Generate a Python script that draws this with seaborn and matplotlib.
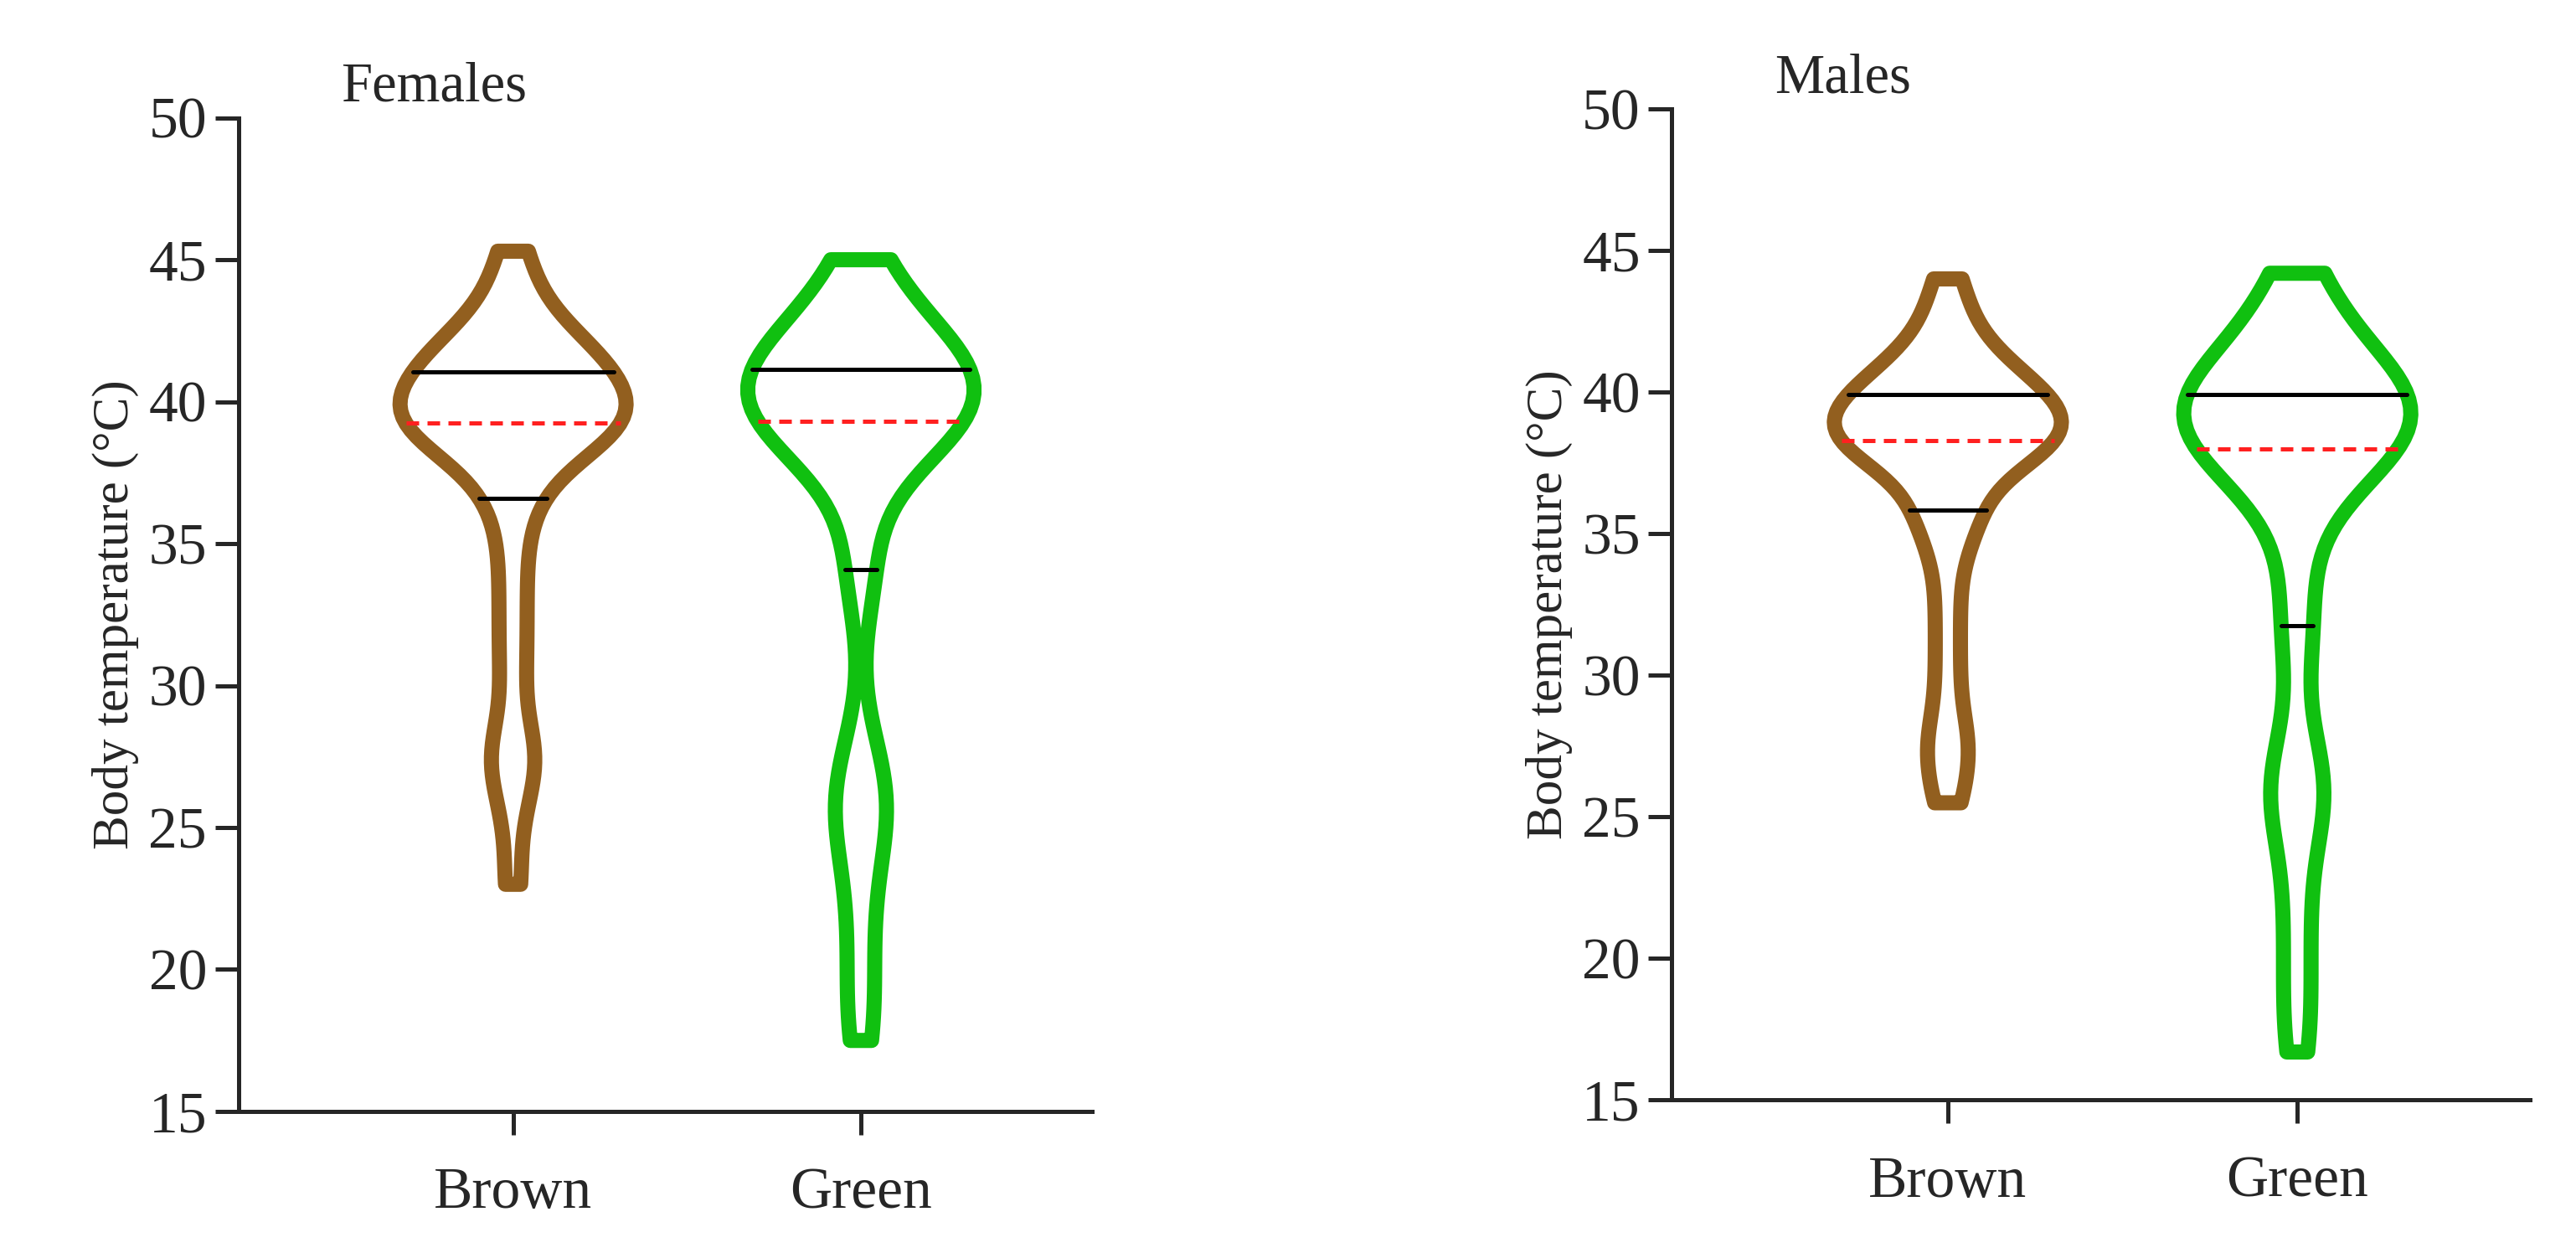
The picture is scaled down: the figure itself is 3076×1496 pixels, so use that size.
import numpy as np
import pandas as pd
import matplotlib
matplotlib.use("Agg")
import matplotlib.pyplot as plt
import seaborn as sns

sns.set_style("ticks")
plt.rcParams["font.family"] = ["Liberation Serif", "DejaVu Serif"]

categories = ["Brown", "Green"]
colors = ["#925f1f", "#10c010"]

female_brown = [23.0, 25.5, 27.0, 27.5, 28.0, 30.0, 31.5, 33.0, 34.5, 36.0,
                36.8, 37.5, 38.0, 38.5, 38.8, 39.0, 39.1, 39.2, 39.2, 39.2,
                39.3, 39.5, 39.6, 39.8, 40.0, 40.2, 40.5, 40.8, 41.0, 41.0,
                41.2, 41.4, 41.6, 41.8, 42.0, 42.3, 42.7, 43.3, 44.3, 45.3]
female_green = [17.5, 19.0, 21.0, 23.0, 24.5, 25.5, 26.0, 26.5, 28.0, 33.5,
                34.3, 36.5, 37.5, 38.3, 38.8, 39.0, 39.1, 39.2, 39.2, 39.3,
                39.3, 39.6, 40.0, 40.3, 40.5, 40.6, 40.8, 41.0, 41.1, 41.1,
                41.3, 41.5, 41.7, 41.9, 42.2, 42.6, 43.1, 43.7, 44.4, 45.0]
male_brown = [25.5, 26.5, 27.5, 28.0, 29.5, 31.0, 32.5, 34.0, 35.0, 35.6,
              35.9, 36.5, 37.0, 37.5, 37.8, 38.0, 38.1, 38.2, 38.3, 38.3,
              38.3, 38.6, 38.8, 39.0, 39.1, 39.2, 39.4, 39.5, 39.7, 39.9,
              40.0, 40.2, 40.4, 40.6, 40.9, 41.2, 41.6, 42.2, 43.0, 44.0]
male_green = [16.7, 18.5, 20.5, 22.5, 24.5, 25.5, 26.0, 26.5, 28.0, 31.0,
              32.0, 34.0, 35.5, 36.5, 37.0, 37.5, 37.8, 37.9, 38.0, 38.0,
              38.0, 38.5, 38.9, 39.2, 39.4, 39.5, 39.6, 39.7, 39.8, 39.9,
              40.0, 40.3, 40.6, 40.9, 41.3, 41.7, 42.2, 42.8, 43.5, 44.2]

panels = [("Females", female_brown, female_green, [0.0925, 0.113, 0.3315, 0.793]),
          ("Males", male_brown, male_green, [0.649, 0.122, 0.333, 0.791])]

fig = plt.figure(figsize=(15.38, 7.48), dpi=200)

for title, brown, green, rect in panels:
    ax = fig.add_axes(rect)
    df = pd.DataFrame({
        "group": ["Brown"] * len(brown) + ["Green"] * len(green),
        "temp": brown + green,
    })
    sns.violinplot(data=df, x="group", y="temp", hue="group", order=categories,
                   palette=colors, fill=False, inner="quart", cut=0,
                   bw_adjust=0.5, density_norm="width", width=0.65,
                   linewidth=6.5, legend=False, ax=ax)
    for i, line in enumerate(ax.lines):
        if i % 3 == 1:
            line.set_color("#ff2020")
            line.set_linestyle((0, (3, 2)))
        else:
            line.set_color("black")
            line.set_linestyle("-")
        line.set_linewidth(1.8)
    for coll in ax.collections:
        coll.set_capstyle("round")
        coll.set_joinstyle("round")
    ax.set_xlim(-0.79, 1.665)
    ax.set_ylim(15, 50)
    ax.set_yticks(range(15, 51, 5))
    ax.set_xlabel("")
    ax.set_ylabel("Body temperature (°C)", fontsize=22)
    ax.tick_params(axis="both", labelsize=25, width=1.8, length=10, direction="out")
    ax.tick_params(axis="x", pad=14)
    for s in ["top", "right"]:
        ax.spines[s].set_visible(False)
    for s in ["left", "bottom"]:
        ax.spines[s].set_linewidth(1.8)
    ax.text(0.12, 1.005, title, transform=ax.transAxes, fontsize=24, va="bottom")

fig.savefig("out.png", dpi=200)
